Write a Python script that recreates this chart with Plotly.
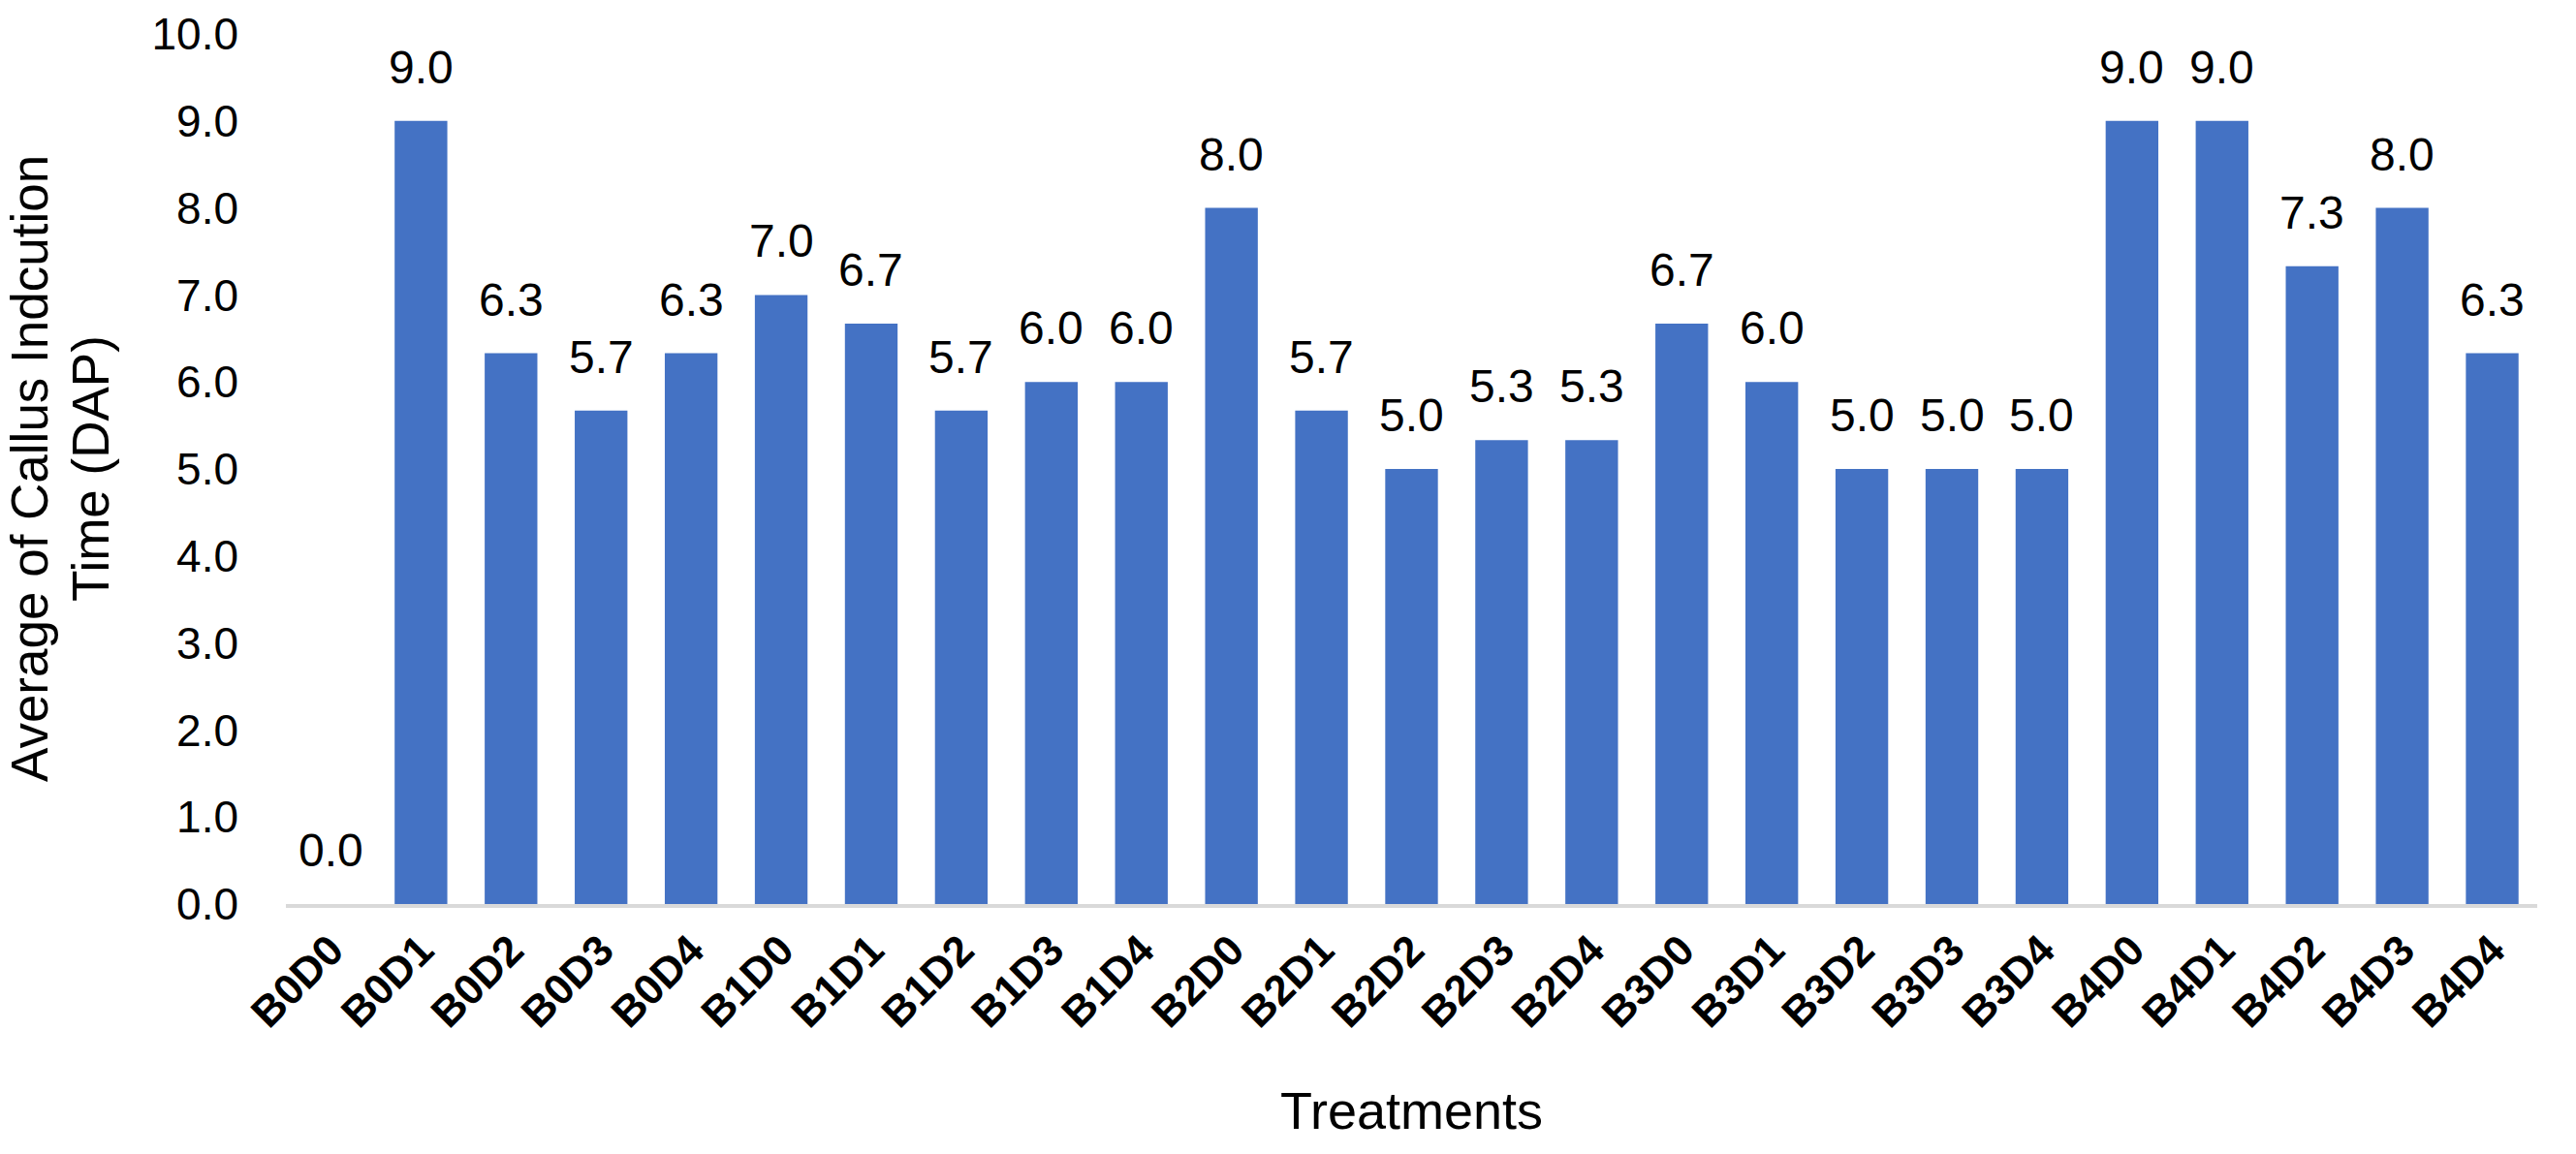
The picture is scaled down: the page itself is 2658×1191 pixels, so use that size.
import plotly.graph_objects as go

categories = ["B0D0", "B0D1", "B0D2", "B0D3", "B0D4",
              "B1D0", "B1D1", "B1D2", "B1D3", "B1D4",
              "B2D0", "B2D1", "B2D2", "B2D3", "B2D4",
              "B3D0", "B3D1", "B3D2", "B3D3", "B3D4",
              "B4D0", "B4D1", "B4D2", "B4D3", "B4D4"]
values = [0.0, 9.0, 6.33, 5.67, 6.33,
          7.0, 6.67, 5.67, 6.0, 6.0,
          8.0, 5.67, 5.0, 5.33, 5.33,
          6.67, 6.0, 5.0, 5.0, 5.0,
          9.0, 9.0, 7.33, 8.0, 6.33]
y_ticks = [0, 1, 2, 3, 4, 5, 6, 7, 8, 9, 10]
y_title_lines = ["Average of Callus Indcution", "Time (DAP)"]
x_title = "Treatments"

FONT = "Liberation Sans, Arial, sans-serif"
W, H = 2658, 1191
L, R, T, B = 295, 40, 35, 258

fig = go.Figure()
fig.add_trace(go.Bar(
    x=categories, y=values,
    marker=dict(color="#4472C4", line=dict(width=0)),
    hoverinfo="x+y",
))

for c, v in zip(categories, values):
    fig.add_annotation(
        x=c, y=v, xref="x", yref="y",
        text=f"{v:.1f}", showarrow=False,
        yanchor="bottom", yshift=27,
        font=dict(family=FONT, size=48, color="#000000"),
    )

# y-axis title as two rotated lines (tighter line spacing like the reference)
for line, px in zip(y_title_lines, [30, 93]):
    fig.add_annotation(
        xref="paper", yref="paper",
        x=(px - L) / (W - L - R), y=0.5,
        text=line, showarrow=False, textangle=-90,
        xanchor="center", yanchor="middle",
        font=dict(family=FONT, size=53, color="#000000"),
    )

fig.update_layout(
    width=W, height=H,
    margin=dict(l=L, r=R, t=T, b=B, autoexpand=False),
    paper_bgcolor="white", plot_bgcolor="white",
    bargap=0.415,
    showlegend=False,
    font=dict(family=FONT, color="#000000"),
    xaxis=dict(
        type="category",
        tickangle=-45,
        tickfont=dict(family=FONT, size=44, color="#000000", weight="bold"),
        showline=True, linecolor="#D9D9D9", linewidth=4,
        ticks="", showgrid=False, zeroline=False,
        title=dict(text=x_title, font=dict(family=FONT, size=54, color="#000000"), standoff=60),
        automargin=False,
    ),
    yaxis=dict(
        range=[0, 10],
        tickvals=y_ticks,
        tickformat=".1f",
        tickfont=dict(family=FONT, size=46, color="#000000"),
        showline=False, showgrid=False, zeroline=False, ticks="",
        ticklabelstandoff=48,
        automargin=False,
    ),
)

fig.write_html("out.html")
